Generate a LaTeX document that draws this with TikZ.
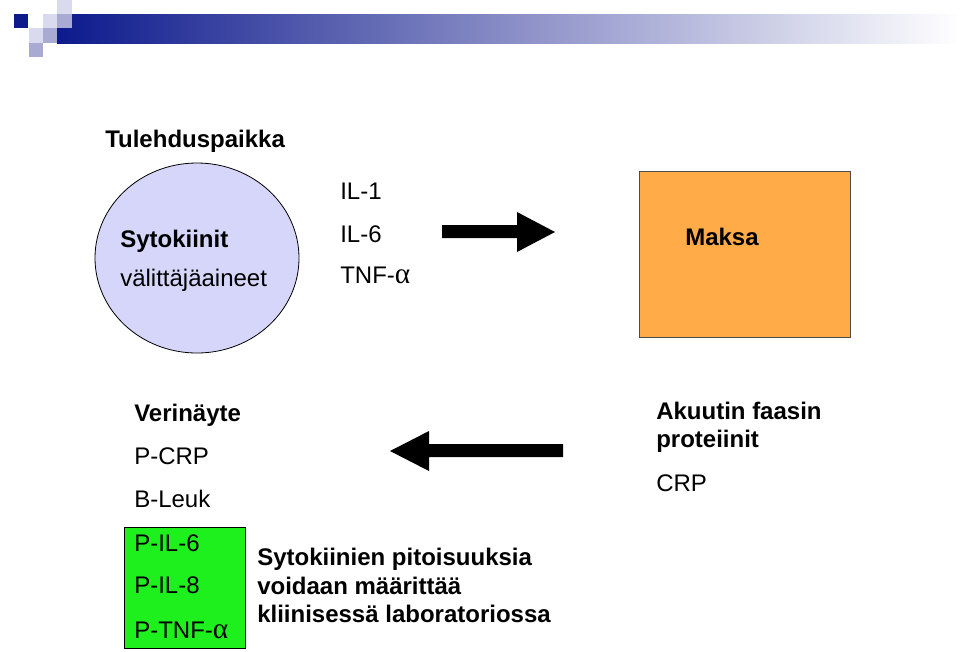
\documentclass[tikz,border=0pt]{standalone}
\usepackage{fontspec}
\setmainfont{Liberation Sans}
\newfontfamily\grk{Liberation Serif}
\usetikzlibrary{shapes.geometric}
\definecolor{hdark}{RGB}{12,26,140}
\definecolor{hmid}{RGB}{168,170,212}
\definecolor{hlight}{RGB}{218,218,238}
\definecolor{lav}{RGB}{214,214,250}
\definecolor{orng}{RGB}{255,171,72}
\definecolor{grn}{RGB}{30,240,30}
\newcommand{\alf}{{\grk\fontsize{22}{22}\selectfont α}}
\tikzset{
  txt/.style={inner sep=0pt,anchor=base west,font=\fontsize{18}{21}\selectfont},
  btxt/.style={txt,font=\fontsize{18}{21}\selectfont\bfseries},
  bigarrow/.style={fill=black,draw=none}
}
\begin{document}
\begin{tikzpicture}[x=0.75pt,y=-0.75pt]
\useasboundingbox (0,0) rectangle (960,651);
\fill[white] (0,0) rectangle (960,651);
% header
\shade[left color=hdark,right color=white,middle color=hmid!80!hdark] (57,14) rectangle (960,43);
\fill[hdark] (14,14) rectangle (28,28);
\fill[hlight] (43,14) rectangle (57,28);
\fill[hlight] (57,0) rectangle (72,14);
\fill[hmid] (57,14) rectangle (72,28);
\fill[hlight] (29,28) rectangle (43,43);
\fill[hmid] (43,28) rectangle (57,43);
\fill[hmid] (29,43) rectangle (43,57);
% shapes
\node[draw=black,fill=lav,ellipse,minimum width=153pt,minimum height=142.5pt,inner sep=0pt,line width=0.6pt] (circ) at (197,258) {};
\node[draw=black!70,fill=orng,rectangle,minimum width=158.25pt,minimum height=124.5pt,inner sep=0pt,line width=0.6pt] (maksabox) at (744.5,254) {};
\node[draw=black,fill=grn,rectangle,minimum width=90.75pt,minimum height=90.75pt,inner sep=0pt,line width=0.6pt] (greenbox) at (184.5,587.5) {};
% arrows
\fill[bigarrow] (442,225) -- (517,225) -- (517,212) -- (555,232) -- (517,252) -- (517,238) -- (442,238) -- cycle;
\fill[bigarrow] (563,444) -- (429,444) -- (429,431) -- (390,451) -- (429,471) -- (429,457) -- (563,457) -- cycle;
% texts
\node[btxt] (t1) at (105,147) {Tulehduspaikka};
\node[btxt] (t2) at (120,247) {Sytokiinit};
\node[txt] (t3) at (120,286) {välittäjäaineet};
\node[txt] (t4) at (340,199) {IL-1};
\node[txt] (t5) at (340,242) {IL-6};
\node[txt] (t6) at (340,283) {TNF-\alf};
\node[btxt,anchor=base] (t7) at (722,245) {Maksa};
\node[btxt] (t8) at (134,421) {Verinäyte};
\node[txt] (t9) at (134,464) {P-CRP};
\node[txt] (t10) at (134,507) {B-Leuk};
\node[txt] (t11) at (134,551) {P-IL-6};
\node[txt] (t12) at (134,593) {P-IL-8};
\node[txt] (t13) at (134,638) {P-TNF-\alf};
\node[btxt] (t14) at (656,419) {Akuutin faasin};
\node[btxt] (t15) at (656,447) {proteiinit};
\node[txt] (t16) at (656,491) {CRP};
\node[btxt] (t17) at (257,565) {Sytokiinien pitoisuuksia};
\node[btxt] (t18) at (257,594) {voidaan määrittää};
\node[btxt] (t19) at (257,622) {kliinisessä laboratoriossa};
\end{tikzpicture}
\end{document}
